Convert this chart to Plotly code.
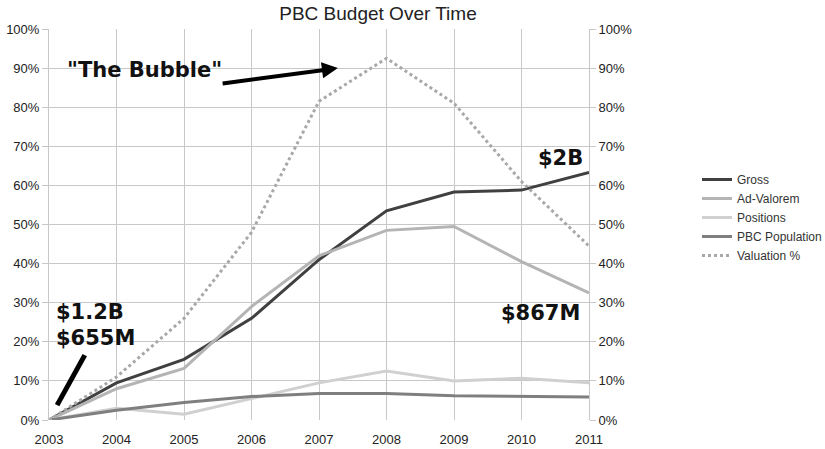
import plotly.graph_objects as go

years = [2003, 2004, 2005, 2006, 2007, 2008, 2009, 2010, 2011]
gross = [0, 9.5, 15.5, 26, 41, 53.5, 58.3, 58.8, 63.3]
ad_valorem = [0, 8, 13.2, 29, 42, 48.5, 49.5, 40.5, 32.5]
positions = [0, 3, 1.5, 5.5, 9.5, 12.5, 10, 10.7, 9.5]
population = [0, 2.5, 4.5, 6, 6.8, 6.8, 6.2, 6, 5.9]
valuation = [0, 11, 26, 48, 81.5, 92.5, 81, 61, 44.5]
y_ticks = list(range(0, 101, 10))
y_labels = [f"{v}%" for v in y_ticks]

series = [
    ("Gross", gross, "#404040", "solid", 3),
    ("Ad-Valorem", ad_valorem, "#b4b4b4", "solid", 3),
    ("Positions", positions, "#d0d0d0", "solid", 3),
    ("PBC Population", population, "#7f7f7f", "solid", 3),
    ("Valuation %", valuation, "#a8a8a8", "dot", 3),
]

fig = go.Figure()
for name, vals, color, dash, w in series:
    fig.add_trace(go.Scatter(x=years, y=vals, name=name, mode="lines",
                             line=dict(color=color, dash=dash, width=w)))
# invisible trace for right axis
fig.add_trace(go.Scatter(x=years, y=valuation, yaxis="y2", mode="lines",
                         line=dict(width=0), showlegend=False, hoverinfo="skip",
                         opacity=0))

font = "Liberation Sans, Arial, sans-serif"
tickfont = dict(family=font, size=13, color="#222222")
fig.update_layout(
    width=825, height=449,
    margin=dict(l=49, r=236, t=29, b=29, autoexpand=False),
    paper_bgcolor="white", plot_bgcolor="white",
    font=dict(family=font, size=12, color="#333333"),
    title=dict(text="PBC Budget Over Time", x=378/825, xanchor="center",
               y=1 - 13/449, yanchor="middle",
               font=dict(family=font, size=19, color="#222222")),
    xaxis=dict(range=[2003, 2011], tickvals=years, showgrid=True,
               gridcolor="#c8c8c8", gridwidth=1, zeroline=False,
               showline=False, ticks="outside", ticklen=7, automargin=False,
               tickcolor="rgba(0,0,0,0)", tickfont=tickfont),
    yaxis=dict(range=[0, 100], tickvals=y_ticks, ticktext=y_labels,
               showgrid=True, gridcolor="#c8c8c8", zeroline=False,
               ticks="outside", ticklen=6, tickcolor="#c8c8c8", automargin=False,
               showline=True, linecolor="#c8c8c8", tickfont=tickfont),
    yaxis2=dict(range=[0, 100], tickvals=y_ticks, ticktext=y_labels,
                overlaying="y", side="right", showgrid=False, zeroline=False,
                ticks="outside", ticklen=6, tickcolor="#c8c8c8", automargin=False,
                showline=True, linecolor="#c8c8c8", tickfont=tickfont),
    legend=dict(x=(697 - 49) / 540, y=(420 - 165) / 391, xanchor="left", yanchor="top",
                font=dict(family=font, size=12, color="#333333"), tracegroupgap=0,
                itemwidth=30, bgcolor="rgba(0,0,0,0)"),
    showlegend=True,
)

ann_font = dict(family="DejaVu Sans, sans-serif", size=21, color="#111111")
fig.add_annotation(x=2003.237, y=89.5, xref="x", yref="y", text='<b>"The Bubble"</b>',
                   showarrow=False, xanchor="left", yanchor="middle", font=ann_font)
fig.add_annotation(x=2007.28, y=90.0, ax=2005.55, ay=86.0, xref="x", yref="y",
                   axref="x", ayref="y", showarrow=True, arrowhead=2,
                   arrowsize=0.8, arrowwidth=4, arrowcolor="#000000", text="")
fig.add_annotation(x=2003.07, y=27.6, xref="x", yref="y", text="<b>$1.2B</b>",
                   showarrow=False, xanchor="left", yanchor="middle", font=ann_font)
fig.add_annotation(x=2003.07, y=20.9, xref="x", yref="y", text="<b>$655M</b>",
                   showarrow=False, xanchor="left", yanchor="middle", font=ann_font)
fig.add_shape(type="line", x0=2003.53, y0=16.6, x1=2003.12, y1=3.8,
              xref="x", yref="y", line=dict(color="#000000", width=5))
fig.add_annotation(x=2010.94, y=67.1, xref="x", yref="y", text="<b>$2B</b>",
                   showarrow=False, xanchor="right", yanchor="middle", font=ann_font)
fig.add_annotation(x=2010.9, y=27.4, xref="x", yref="y", text="<b>$867M</b>",
                   showarrow=False, xanchor="right", yanchor="middle", font=ann_font)

fig.write_html("out.html")
